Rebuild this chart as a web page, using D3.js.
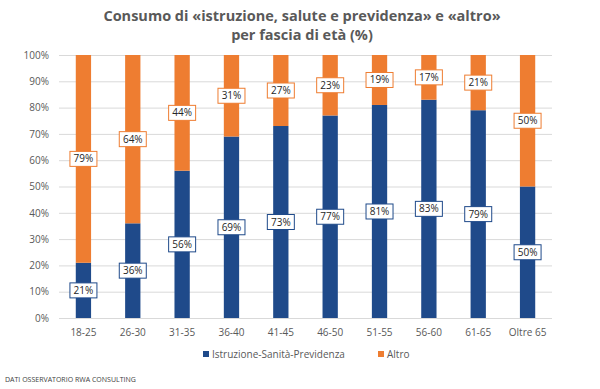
<!DOCTYPE html>
<html>
<head>
<meta charset="utf-8">
<script src="https://cdn.jsdelivr.net/npm/d3@7"></script>
<style>
body { margin: 0; background: #fff; }
text { font-family: "Open Sans", "DejaVu Sans", sans-serif; }
</style>
</head>
<body>
<script>
// categories and values (percent)
var fasce = ["18-25", "26-30", "31-35", "36-40", "41-45", "46-50", "51-55", "56-60", "61-65", "Oltre 65"];
var istruzione = [21, 36, 56, 69, 73, 77, 81, 83, 79, 50];
var altro = [79, 64, 44, 31, 27, 23, 19, 17, 21, 50];
var serie = ["Istruzione-Sanità-Previdenza", "Altro"];
var yTicks = [0, 10, 20, 30, 40, 50, 60, 70, 80, 90, 100];

var colori = ["#1f4a8a", "#ee7d31"];

var width = 600, height = 389;
var margin = {top: 55, right: 48, bottom: 71, left: 59};
var w = width - margin.left - margin.right;
var h = height - margin.top - margin.bottom;

var svg = d3.select("body").append("svg")
    .attr("width", width)
    .attr("height", height);

// title
var title = svg.append("text")
    .attr("x", 300)
    .attr("text-anchor", "middle")
    .attr("fill", "#595959")
    .attr("font-size", "14.5px")
    .attr("font-weight", "bold");
title.append("tspan").attr("x", 302).attr("y", 21).text("Consumo di «istruzione, salute e previdenza» e «altro»");
title.append("tspan").attr("x", 302).attr("y", 40).text("per fascia di età (%)");

var g = svg.append("g")
    .attr("transform", "translate(" + margin.left + "," + margin.top + ")");

var xScale = d3.scaleBand().domain(fasce).range([0, w])
    .paddingInner(0.69)
    .paddingOuter(0.34);
var yScale = d3.scaleLinear().domain([0, 100]).range([h, 0]);

// gridlines
g.selectAll(".grid")
    .data(yTicks)
    .enter().append("line")
    .attr("class", "grid")
    .attr("x1", 0)
    .attr("x2", w)
    .attr("y1", function(d) { return yScale(d) + 0.5; })
    .attr("y2", function(d) { return yScale(d) + 0.5; })
    .attr("stroke", "#d9d9d9")
    .attr("stroke-width", 1);

// y axis
var yAxis = d3.axisLeft(yScale)
    .tickValues(yTicks)
    .tickSize(0)
    .tickPadding(10)
    .tickFormat(function(d) { return d + "%"; });
var ya = g.append("g").attr("class", "y axis").call(yAxis);
ya.select(".domain").remove();
ya.selectAll("text").attr("fill", "#595959").attr("font-size", "10px");

// x axis
var xAxis = d3.axisBottom(xScale).tickSize(0).tickPadding(11);
var xa = g.append("g")
    .attr("class", "x axis")
    .attr("transform", "translate(0," + h + ")")
    .call(xAxis);
xa.select(".domain").remove();
xa.selectAll("text").attr("fill", "#595959").attr("font-size", "10px");

// stacked data
var rows = fasce.map(function(f, i) {
    return {fascia: f, a: istruzione[i], b: altro[i]};
});
var stack = d3.stack().keys(["a", "b"]);
var layers = stack(rows);

var layerG = g.selectAll(".layer")
    .data(layers)
    .enter().append("g")
    .attr("class", "layer")
    .attr("fill", function(d, i) { return colori[i]; });

layerG.selectAll("rect")
    .data(function(d) { return d; })
    .enter().append("rect")
    .attr("x", function(d) { return xScale(d.data.fascia); })
    .attr("width", xScale.bandwidth())
    .attr("y", function(d) { return yScale(d[1]); })
    .attr("height", function(d) { return yScale(d[0]) - yScale(d[1]); });

// value labels with boxes
layers.forEach(function(layer, li) {
    var lab = g.selectAll(".lab" + li)
        .data(layer)
        .enter().append("g")
        .attr("class", "lab" + li)
        .attr("transform", function(d) {
            var cx = xScale(d.data.fascia) + xScale.bandwidth() / 2;
            var cy = yScale((d[0] + d[1]) / 2);
            return "translate(" + cx + "," + cy + ")";
        });
    lab.append("rect")
        .attr("x", -13.5)
        .attr("y", -7.5)
        .attr("width", 27)
        .attr("height", 15)
        .attr("fill", "#fff")
        .attr("stroke", colori[li])
        .attr("stroke-width", 1);
    lab.append("text")
        .attr("text-anchor", "middle")
        .attr("dy", "0.35em")
        .attr("font-size", "10px")
        .attr("fill", "#262626")
        .text(function(d) { return (d[1] - d[0]) + "%"; });
});

// legend
var legendX = [203, 378];
var legend = svg.selectAll(".legend")
    .data(serie)
    .enter().append("g")
    .attr("class", "legend")
    .attr("transform", function(d, i) { return "translate(" + legendX[i] + ",355)"; });
legend.append("rect")
    .attr("x", 0)
    .attr("y", -4)
    .attr("width", 6)
    .attr("height", 6)
    .attr("fill", function(d, i) { return colori[i]; });
legend.append("text")
    .attr("x", 9)
    .attr("dy", "0.32em")
    .attr("font-size", "10px")
    .attr("fill", "#595959")
    .text(function(d) { return d; });

// source note
svg.append("text")
    .attr("x", 5)
    .attr("y", 382)
    .attr("font-size", "7px")
    .attr("fill", "#404040")
    .text("DATI OSSERVATORIO RWA CONSULTING");
</script>
</body>
</html>
